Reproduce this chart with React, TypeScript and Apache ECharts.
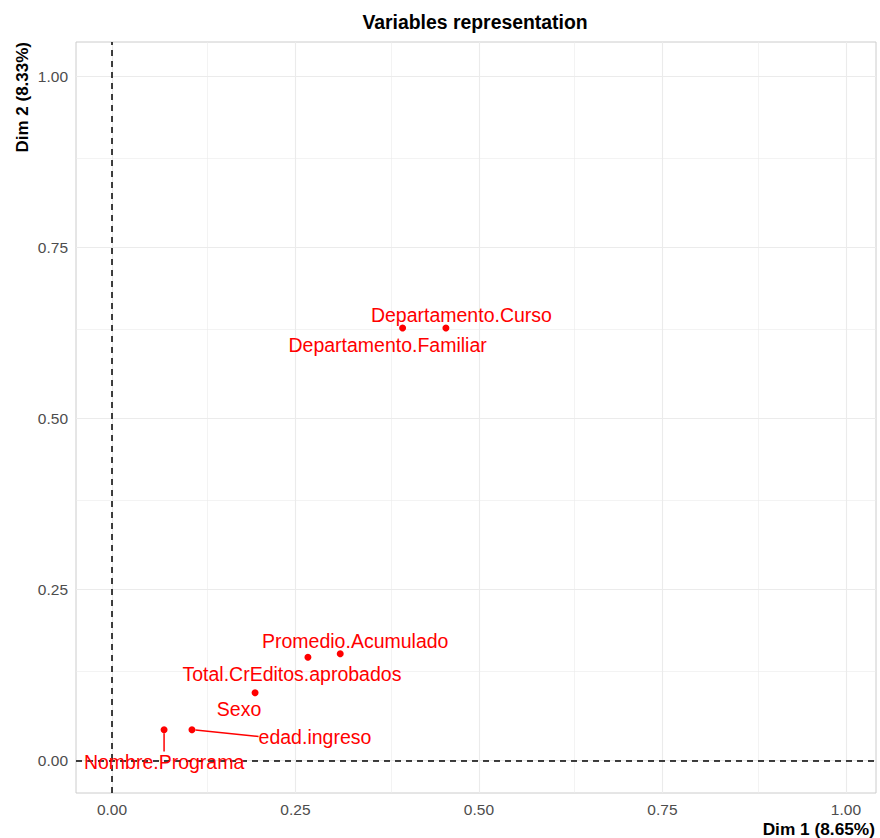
import React, { useEffect, useRef } from "react";
import * as echarts from "echarts";

// ---- data ----
const variables = [
  "Departamento.Curso",
  "Departamento.Familiar",
  "Promedio.Acumulado",
  "Total.CrEditos.aprobados",
  "Sexo",
  "edad.ingreso",
  "Nombre.Programa",
];
const dim1 = [0.455, 0.396, 0.311, 0.267, 0.195, 0.109, 0.071];
const dim2 = [0.632, 0.632, 0.156, 0.151, 0.099, 0.045, 0.045];
const majorTicks = [0, 0.25, 0.5, 0.75, 1];
const minorTicks = [0.125, 0.375, 0.625, 0.875];
const titleText = "Variables representation";
const xTitle = "Dim 1 (8.65%)";
const yTitle = "Dim 2 (8.33%)";

// ---- label placement (pixel shifts from each point, repel-style) ----
const LABEL_SHIFT: Record<string, [number, number]> = {
  "Departamento.Curso": [15.5, -13.5],
  "Departamento.Familiar": [-15, 16.8],
  "Promedio.Acumulado": [15, -12.5],
  "Total.CrEditos.aprobados": [-16, 16.5],
  Sexo: [-16, 16.5],
  "edad.ingreso": [123, 6.8],
  "Nombre.Programa": [0, 31.8],
};
const WITH_SEGMENT = new Set(["edad.ingreso", "Nombre.Programa"]);

const FONT = "'Liberation Sans', Arial, sans-serif";

export default function App() {
  const ref = useRef<HTMLDivElement>(null);
  useEffect(() => {
    if (!ref.current) return;
    const chart = echarts.init(ref.current, null, { renderer: "svg" });
    const grid = { left: 76, right: 4, top: 42, bottom: 45 };
    const tickFmt = (v: number) => v.toFixed(2);

    const gridLine = (axis: "xAxis" | "yAxis", vals: number[], width: number) =>
      vals.map((v) => ({ [axis]: v, lineStyle: { color: "#ebebeb", width, type: "solid" } }));

    const axisCommon = {
      type: "value",
      axisLine: { show: false },
      splitLine: { show: false },
      axisTick: { show: true, customValues: majorTicks, length: 4, lineStyle: { color: "#333", width: 1 } },
      axisLabel: {
        customValues: majorTicks,
        formatter: tickFmt,
        color: "#4d4d4d",
        fontSize: 15.5,
        margin: 8,
        fontFamily: FONT,
      },
    };

    const option: any = {
      animation: false,
      textStyle: { fontFamily: FONT },
      grid: { ...grid, show: true, borderColor: "#cccccc", borderWidth: 1, backgroundColor: "#fff" },
      xAxis: { ...axisCommon, min: -0.049, max: 1.041 },
      yAxis: { ...axisCommon, min: -0.0475, max: 1.05 },
      graphic: [
        {
          type: "text",
          x: 475,
          y: 22,
          style: {
            text: titleText,
            font: `bold 19.4px ${FONT}`,
            fill: "#000",
            textAlign: "center",
            textVerticalAlign: "middle",
          },
        },
        {
          type: "text",
          x: 875,
          y: 828.5,
          style: {
            text: xTitle,
            font: `bold 17.3px ${FONT}`,
            fill: "#000",
            textAlign: "right",
            textVerticalAlign: "middle",
          },
        },
        {
          type: "text",
          x: 22,
          y: 42,
          rotation: Math.PI / 2,
          style: {
            text: yTitle,
            font: `bold 17px ${FONT}`,
            fill: "#000",
            textAlign: "right",
            textVerticalAlign: "middle",
          },
        },
      ],
      series: [
        {
          type: "line",
          data: [],
          silent: true,
          z: 1,
          markLine: {
            silent: true,
            symbol: "none",
            label: { show: false },
            animation: false,
            data: [
              ...gridLine("xAxis", minorTicks, 0.6),
              ...gridLine("yAxis", minorTicks, 0.6),
              ...gridLine("xAxis", majorTicks, 1.1),
              ...gridLine("yAxis", majorTicks, 1.1),
            ],
          },
        },
        {
          type: "line",
          data: [],
          silent: true,
          z: 2,
          markLine: {
            silent: true,
            symbol: "none",
            label: { show: false },
            animation: false,
            lineStyle: { color: "#000", width: 1.5, type: [6, 5] },
            data: [{ xAxis: 0 }, { yAxis: 0 }],
          },
        },
        {
          type: "scatter",
          z: 5,
          symbolSize: 7,
          itemStyle: { color: "#ff0000", opacity: 1 },
          data: variables.map((name, i) => ({
            name,
            value: [dim1[i], dim2[i]],
            labelLine: { show: WITH_SEGMENT.has(name) },
          })),
          label: {
            show: true,
            position: "inside",
            formatter: (p: any) => p.name,
            color: "#ff0000",
            fontSize: 19.5,
            fontFamily: FONT,
          },
          labelLine: { show: false, lineStyle: { color: "#ff0000", width: 1.5, opacity: 1 }, smooth: false },
          labelLayout: (p: any) => {
            const s = LABEL_SHIFT[variables[p.dataIndex]] || [0, 0];
            return { dx: s[0], dy: s[1] };
          },
        },
      ],
    };
    chart.setOption(option);
    return () => chart.dispose();
  }, []);
  return (
    <div
      ref={ref}
      style={{ position: "absolute", left: 0, top: 0, width: 880, height: 838 }}
    />
  );
}
